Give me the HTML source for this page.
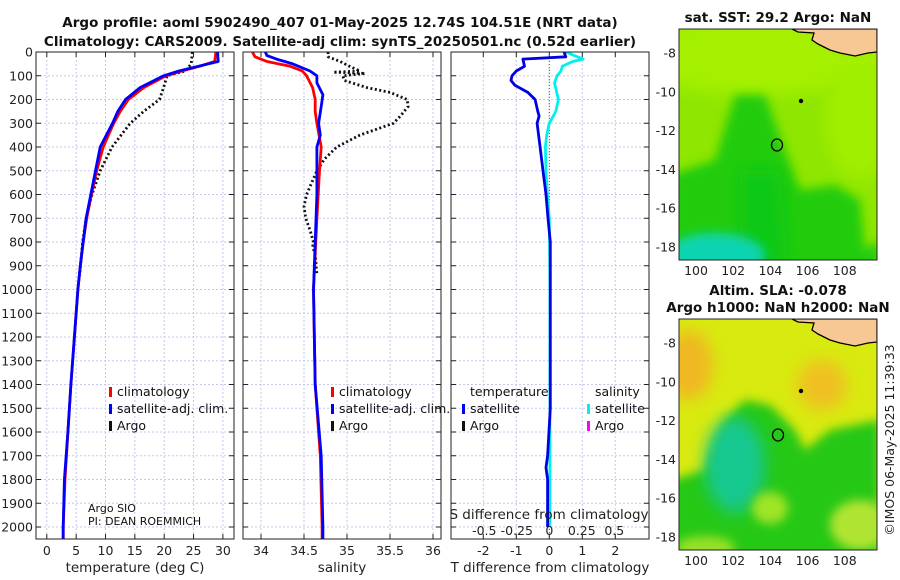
<!DOCTYPE html>
<html><head><meta charset="utf-8">
<style>
html,body{margin:0;padding:0;background:#fff;}
svg{display:block;font-family:"DejaVu Sans","Liberation Sans",sans-serif;}
.t{font-weight:bold;font-size:13.5px;fill:#111}
.tk{font-size:12.5px;fill:#222}
.lg{font-size:12.5px;fill:#111}
</style></head>
<body>
<svg id="fig" width="900" height="580" viewBox="0 0 900 580" xmlns="http://www.w3.org/2000/svg">
<defs>
<filter id="bl" x="-50%" y="-50%" width="200%" height="200%"><feGaussianBlur stdDeviation="8"/></filter>
<filter id="bl2" x="-50%" y="-50%" width="200%" height="200%"><feGaussianBlur stdDeviation="5"/></filter>
<clipPath id="c1"><rect x="36" y="52" width="198" height="487"/></clipPath>
<clipPath id="c2"><rect x="243" y="52" width="198" height="487"/></clipPath>
<clipPath id="c3"><rect x="451" y="52" width="198" height="487"/></clipPath>
<clipPath id="m1"><rect x="679" y="29" width="198" height="231"/></clipPath>
<clipPath id="m2"><rect x="679" y="319" width="198" height="231"/></clipPath>
</defs>
<text class="t" x="340" y="27" text-anchor="middle">Argo profile: aoml 5902490_407 01-May-2025 12.74S 104.51E (NRT data)</text>
<text class="t" x="340" y="46" text-anchor="middle">Climatology: CARS2009. Satellite-adj clim: synTS_20250501.nc (0.52d earlier)</text>
<g id="g"></g>
<!-- Map 1 -->
<g clip-path="url(#m1)">
<rect x="679" y="29" width="198" height="231" fill="#8fe600"/>
<ellipse cx="760" cy="55" rx="130" ry="40" fill="#a4f000" filter="url(#bl)"/>
<ellipse cx="860" cy="120" rx="35" ry="60" fill="#a0ee00" filter="url(#bl)"/>
<path d="M670,300 L670,175 L715,160 L735,95 L765,95 L785,150 L800,190 L835,185 L860,200 L865,250 L880,240 L880,300 Z" fill="#22cc10" filter="url(#bl2)"/>
<path d="M740,300 L740,170 L780,170 L790,300 Z" fill="#10c818" filter="url(#bl)"/>
<ellipse cx="715" cy="255" rx="50" ry="22" fill="#10d4b0" filter="url(#bl2)"/>
<path d="M792,29 L877,29 L877,52 L868,53 L855,56 L840,53 L830,50 L818,44 L812,40 L814,33 L798,32 Z" fill="#f8c894" stroke="#000" stroke-width="1.3"/>
<ellipse cx="777" cy="145" rx="5.5" ry="6" fill="none" stroke="#000" stroke-width="1.3"/>
<circle cx="801" cy="101" r="2.2" fill="#000"/>
</g>
<rect x="679" y="29" width="198" height="231" fill="none" stroke="#222" stroke-width="1"/>
<text class="t" x="778" y="22" text-anchor="middle">sat. SST: 29.2 Argo: NaN</text>
<!-- Map 2 -->
<g clip-path="url(#m2)">
<rect x="679" y="319" width="198" height="231" fill="#d8ea10"/>
<ellipse cx="688" cy="365" rx="25" ry="35" fill="#f0b820" filter="url(#bl)"/>
<ellipse cx="822" cy="385" rx="25" ry="25" fill="#f0c020" filter="url(#bl)"/>
<path d="M670,560 L670,480 L705,470 L725,420 L745,400 L770,405 L795,430 L805,450 L830,430 L880,420 L880,560 Z" fill="#26c818" filter="url(#bl2)"/>
<ellipse cx="735" cy="465" rx="30" ry="48" fill="#12c890" filter="url(#bl)"/>
<ellipse cx="770" cy="508" rx="18" ry="16" fill="#a0e428" filter="url(#bl2)"/>
<ellipse cx="860" cy="525" rx="30" ry="25" fill="#b0e430" filter="url(#bl2)"/>
<ellipse cx="705" cy="548" rx="30" ry="12" fill="#98e028" filter="url(#bl2)"/>
<path d="M792,319 L877,319 L877,342 L868,343 L855,346 L840,343 L830,340 L818,334 L812,330 L814,323 L798,322 Z" fill="#f8c894" stroke="#000" stroke-width="1.3"/>
<ellipse cx="778" cy="435" rx="5.5" ry="6" fill="none" stroke="#000" stroke-width="1.3"/>
<circle cx="801" cy="391" r="2.2" fill="#000"/>
</g>
<rect x="679" y="319" width="198" height="231" fill="none" stroke="#222" stroke-width="1"/>
<text class="t" x="778" y="295" text-anchor="middle">Altim. SLA: -0.078</text>
<text class="t" x="778" y="312" text-anchor="middle">Argo h1000: NaN h2000: NaN</text>
<text class="tk" transform="translate(894,440) rotate(-90)" text-anchor="middle">©IMOS 06-May-2025 11:39:33</text>
</svg>
<script>
// ---- data ----
const depthTicks=[0,100,200,300,400,500,600,700,800,900,1000,1100,1200,1300,1400,1500,1600,1700,1800,1900,2000];
const tempTicks=[0,5,10,15,20,25,30];
const salTicks=[34,34.5,35,35.5,36];
const salTickLabels=["34","34.5","35","35.5","36"];
const tdTicks=[-2,-1,0,1,2];
const sdTicks=[-0.5,-0.25,0,0.25,0.5];
const sdTickLabels=["-0.5","-0.25","0","0.25","0.5"];
const lonTicks=[100,102,104,106,108];
const latTicks=[-8,-10,-12,-14,-16,-18];

const climTDepth=[0,40,60,80,100,150,200,250,300,400,500,600,700,800,900,1000,1200,1400,1600,1800,2000,2050];
const climTemp=[28.8,28.6,26,23,20.3,16.5,13.9,12.5,11.4,9.6,8.5,7.6,6.8,6.2,5.7,5.3,4.7,4.1,3.6,3.1,2.8,2.8];
const satTemp=[29.1,29.2,25.8,22.5,19.9,15.9,13.4,12.1,11.2,9.1,8.3,7.5,6.7,6.2,5.7,5.3,4.7,4.1,3.6,3.0,2.8,2.8];
const argoTDepth=[0,50,80,100,150,200,250,300,400,500,600,700,800,940];
const argoTemp=[24.8,24.6,23.6,20.5,19.9,19.2,16.5,14.2,11.1,9.1,7.7,6.7,6.1,5.6];

const climSDepth=[0,20,40,60,80,100,150,200,250,300,400,500,700,1000,1400,1700,2000,2050];
const climSal=[33.9,33.93,34.07,34.34,34.48,34.53,34.6,34.63,34.63,34.65,34.7,34.68,34.65,34.61,34.63,34.69,34.71,34.71];
const satSDepth=[0,15,30,50,80,100,130,180,230,300,350,400,600,1000,1400,1700,2000,2050];
const satSal=[34.05,34.07,34.18,34.37,34.57,34.65,34.65,34.72,34.7,34.67,34.69,34.65,34.65,34.61,34.63,34.7,34.72,34.72];
const argoSDepth=[0,20,40,60,80,85,90,100,120,150,170,200,230,270,300,350,400,450,500,550,600,650,700,750,800,820,850,940];
const argoSal=[34.78,34.78,34.92,35.03,35.15,34.84,35.21,34.95,34.97,35.23,35.5,35.7,35.71,35.62,35.54,35.15,34.88,34.74,34.65,34.59,34.53,34.5,34.52,34.57,34.61,34.6,34.63,34.65];

const tdDepth=[0,20,30,60,80,100,120,140,170,200,250,270,300,400,500,600,700,800,1000,1500,1700,1750,1800,2000];
const tdVal=[0.45,0.5,-0.8,-0.75,-1.0,-1.13,-1.16,-1.04,-0.65,-0.43,-0.35,-0.31,-0.37,-0.28,-0.19,-0.1,-0.04,0.03,0.03,0.03,-0.05,-0.1,-0.05,-0.05];
const sdDepth=[0,10,30,40,60,80,100,130,200,250,300,350,400,500,600,700,1000,1500,2000];
const sdVal=[0.13,0.17,0.26,0.18,0.1,0.09,0.06,0.04,0.07,0.05,0,-0.02,-0.03,-0.025,-0.015,0,0.005,0.005,0.005];

// ---- axes ----
const NS="http://www.w3.org/2000/svg";
const g=document.getElementById('g');
const yD=d=>52+d*0.2375;
const xT=v=>46.8+v*5.87;
const xS=v=>261+(v-34)*86;
const xTD=v=>549.3+v*33;
const xSD=v=>549.3+v*130;
const xLon=v=>696+(v-100)*18.6;
const yLat1=v=>53+(-8-v)*19.4;
const yLat2=v=>343+(-8-v)*19.4;
function mk(tag,attrs,parent){const e=document.createElementNS(NS,tag);for(const k in attrs)e.setAttribute(k,attrs[k]);(parent||g).appendChild(e);return e;}
function txt(x,y,s,cls,anchor){const e=mk('text',{x:x,y:y,'class':cls,'text-anchor':anchor||'middle'});e.textContent=s;return e;}

const panels=[{x0:36,xs:tempTicks.map(xT),name:'temperature-panel'},{x0:243,xs:salTicks.map(xS),name:'salinity-panel'},{x0:451,xs:tdTicks.map(xTD),name:'difference-panel'}];
panels.forEach(p=>{
  const pg=mk('g',{});
  
  
  p.xs.forEach(x=>mk('line',{x1:x,x2:x,y1:52,y2:539,stroke:'#c4c8ec','stroke-width':1,'stroke-dasharray':'2,2'},pg));
  depthTicks.forEach(d=>{const y=yD(d);mk('line',{x1:p.x0,x2:p.x0+198,y1:y,y2:y,stroke:'#c4c8ec','stroke-width':1,'stroke-dasharray':'2,2'},pg);
    mk('line',{x1:p.x0,x2:p.x0+5,y1:y,y2:y,stroke:'#222'},pg);mk('line',{x1:p.x0+193,x2:p.x0+198,y1:y,y2:y,stroke:'#222'},pg);});
  p.xs.forEach(x=>{mk('line',{x1:x,x2:x,y1:539,y2:534,stroke:'#222'},pg);mk('line',{x1:x,x2:x,y1:52,y2:57,stroke:'#222'},pg);});
});
depthTicks.forEach(d=>{const e=txt(33,yD(d)+4.5,String(d),'tk','end');});
tempTicks.forEach(v=>{const e=txt(xT(v),555,String(v),'tk');});
salTicks.forEach((v,i)=>{const e=txt(xS(v),555,salTickLabels[i],'tk');});
tdTicks.forEach(v=>{const e=txt(xTD(v),555,String(v),'tk');});
let e;
e=txt(135,572,'temperature (deg C)','tk');e.style.fontSize='13.5px';
e=txt(342,572,'salinity','tk');e.style.fontSize='13.5px';
e=txt(550,572,'T difference from climatology','tk');e.style.fontSize='13.5px';

// map ticks
[[yLat1,260],[yLat2,550]].forEach(([yf,yb])=>{
  latTicks.forEach(v=>{const y=yf(v);mk('line',{x1:679,x2:683,y1:y,y2:y,stroke:'#222'});mk('line',{x1:873,x2:877,y1:y,y2:y,stroke:'#222'});
    const t=txt(676,y+4.5,String(v),'tk','end');});
  lonTicks.forEach(v=>{const x=xLon(v);mk('line',{x1:x,x2:x,y1:yb,y2:yb-4,stroke:'#222'});
    const t=txt(x,yb+15,String(v),'tk');});
});

function line(xs,ys,xf,color,w,dash,clip,name){
  const pts=xs.map((v,i)=>xf(v).toFixed(1)+','+yD(ys[i]).toFixed(1)).join(' ');
  const a={points:pts,fill:'none',stroke:color,'stroke-width':w,'clip-path':'url(#'+clip+')','stroke-linejoin':'round'};
  if(dash)a['stroke-dasharray']=dash;
  const el=mk('polyline',a);
  
  
}
const zl=mk('line',{x1:xTD(0),x2:xTD(0),y1:52,y2:539,stroke:'#556633','stroke-width':1,'stroke-dasharray':'1,2'});



line(argoTemp,argoTDepth,xT,'#111',2.8,'2,2.5','c1','argo-temperature-line');
line(climTemp,climTDepth,xT,'#f00',2.8,null,'c1','clim-temperature-line');
line(satTemp,climTDepth,xT,'#00f',2.8,null,'c1','sat-temperature-line');
line(argoSal,argoSDepth,xS,'#111',2.8,'2,2.5','c2','argo-salinity-line');
line(climSal,climSDepth,xS,'#f00',2.8,null,'c2','clim-salinity-line');
line(satSal,satSDepth,xS,'#00f',2.8,null,'c2','sat-salinity-line');
line(sdVal,sdDepth,xSD,'#00f0f0',2.8,null,'c3','sdiff-satellite-line');
line(tdVal,tdDepth,xTD,'#0000e0',2.8,null,'c3','tdiff-satellite-line');

[36,243,451].forEach(x=>mk('rect',{x:x,y:52,width:198,height:487,fill:'none',stroke:'#222','stroke-width':1}));

function leg(x,y,color,label,name){
  mk('rect',{x:x,y:y-9,width:3,height:10,fill:color});
  const t=txt(x+8,y,label,'lg','start');
  
  
}
leg(109,396,'#f00','climatology','legend-climatology');
leg(109,413,'#00f','satellite-adj. clim.','legend-satellite');
leg(109,430,'#111','Argo','legend-argo');
leg(331,396,'#f00','climatology','legend-sal-climatology');
leg(331,413,'#00f','satellite-adj. clim.','legend-sal-satellite');
leg(331,430,'#111','Argo','legend-sal-argo');
e=txt(470,396,'temperature','lg','start');
e=txt(595,396,'salinity','lg','start');
leg(462,413,'#00f','satellite','legend-t-satellite');
leg(462,430,'#111','Argo','legend-t-argo');
leg(587,413,'#00f0f0','satellite','legend-s-satellite');
leg(587,430,'#f0f','Argo','legend-s-argo');
e=txt(88,512,'Argo SIO','lg','start');e.style.fontSize='11px';
e=txt(88,525,'PI: DEAN ROEMMICH','lg','start');e.style.fontSize='11px';
e=txt(549,519,'S difference from climatology','tk');e.style.fontSize='13.5px';
sdTicks.forEach((v,i)=>{const t=txt(xSD(v),535,sdTickLabels[i],'tk');});
</script>
</body></html>
